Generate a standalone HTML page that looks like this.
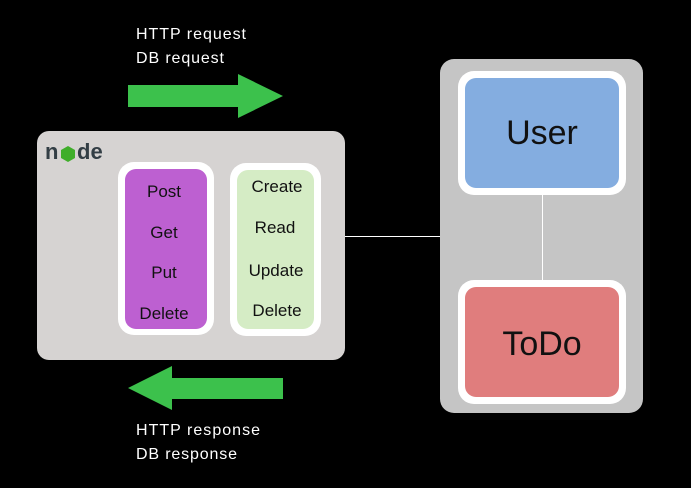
<!DOCTYPE html>
<html><head><style>
html,body{margin:0;padding:0;background:#000;}
svg{display:block;}
text{font-family:"Liberation Sans",sans-serif;}
</style></head><body>
<svg width="691" height="488" viewBox="0 0 691 488" xmlns="http://www.w3.org/2000/svg">
<rect width="691" height="488" fill="#000"/>
<text x="136" y="39" font-size="16" fill="#fff" textLength="110">HTTP request</text>
<text x="136" y="63" font-size="16" fill="#fff" textLength="88">DB request</text>
<polygon points="128,85 238,85 238,74 283,96 238,118 238,107 128,107" fill="#3cc14c"/>
<polygon points="128,388 172,366 172,378 283,378 283,399 172,399 172,410" fill="#3cc14c"/>
<text x="136" y="435" font-size="16" fill="#fff" textLength="124">HTTP response</text>
<text x="136" y="459" font-size="16" fill="#fff" textLength="101">DB response</text>
<line x1="345" y1="236.5" x2="440" y2="236.5" stroke="#fff" stroke-width="1"/>
<rect x="37" y="131" width="308" height="229" rx="12" fill="#d6d3d2"/>
<text x="45" y="159" font-size="22" font-weight="bold" fill="#333e45">n</text>
<polygon points="68,146 75,150 75,158 68,162 61,158 61,150" fill="#3fae2a"/>
<text x="77" y="159" font-size="22" font-weight="bold" fill="#333e45">de</text>
<rect x="118" y="162" width="96" height="173" rx="16" fill="#fff"/>
<rect x="125" y="169" width="82" height="160" rx="11" fill="#bd60d1"/>
<rect x="230" y="163" width="91" height="173" rx="16" fill="#fff"/>
<rect x="237" y="170" width="77" height="159" rx="11" fill="#d5ecc5"/>
<g font-size="17" fill="#111" text-anchor="middle">
<text x="164" y="197">Post</text>
<text x="164" y="238">Get</text>
<text x="164" y="278">Put</text>
<text x="164" y="319">Delete</text>
<text x="277" y="192">Create</text>
<text x="275" y="233">Read</text>
<text x="276" y="276">Update</text>
<text x="277" y="316">Delete</text>
</g>
<rect x="440" y="59" width="203" height="354" rx="14" fill="#c5c5c5"/>
<line x1="542.5" y1="195" x2="542.5" y2="280" stroke="#fff" stroke-width="1"/>
<rect x="458" y="71" width="168" height="124" rx="16" fill="#fff"/>
<rect x="465" y="78" width="154" height="110" rx="11" fill="#84ade0"/>
<rect x="458" y="280" width="168" height="124" rx="16" fill="#fff"/>
<rect x="465" y="287" width="154" height="110" rx="11" fill="#e07d7d"/>
<text x="542" y="144" font-size="34" fill="#111" text-anchor="middle">User</text>
<text x="542" y="355" font-size="34" fill="#111" text-anchor="middle">ToDo</text>
</svg>
</body></html>
